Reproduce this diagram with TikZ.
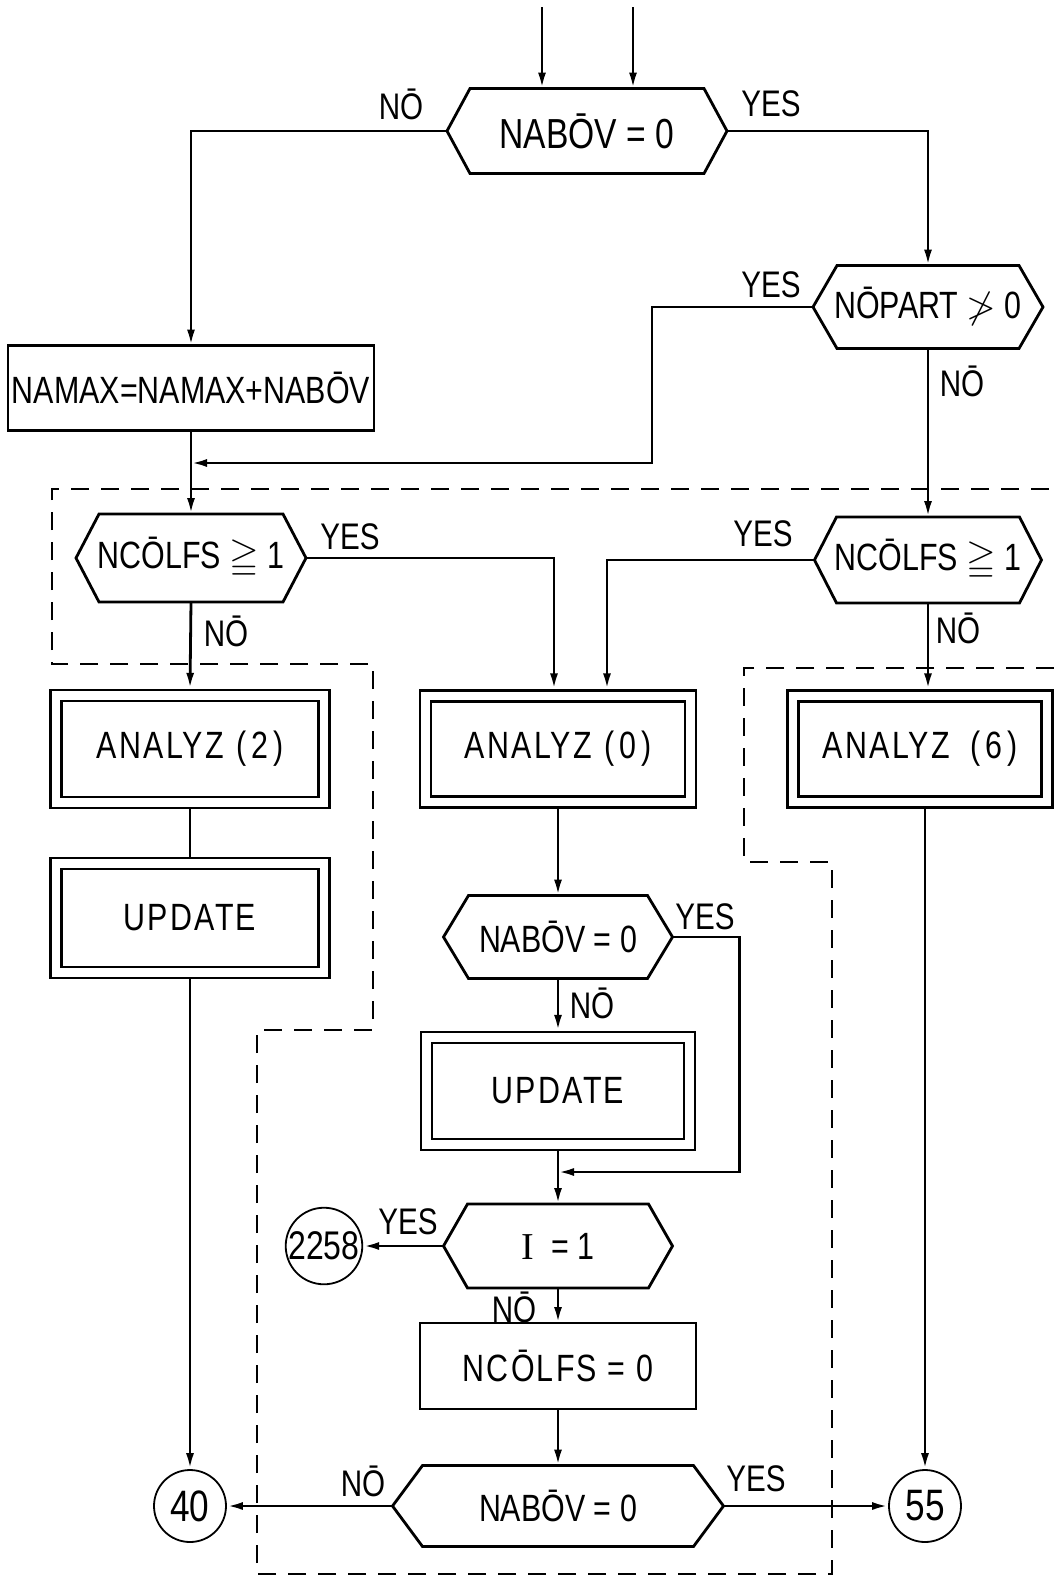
\documentclass[tikz,border=0pt]{standalone}
\usepackage{fontspec}
\usepackage{amssymb}
\setmainfont{Liberation Sans}[FakeStretch=0.8]
\newfontfamily\spacedfont{Liberation Sans}[FakeStretch=0.8,LetterSpace=6]
\newfontfamily\seriffont{Liberation Serif}
\usetikzlibrary{arrows.meta,calc}

\tikzset{
  >={Latex[length=16pt,width=8pt]},
  flow/.style={line width=2.8pt},
  frame/.style={line width=2pt, dash pattern=on 18pt off 12pt},
  decision/.style={inner sep=0pt, outer sep=0pt, font=\fontsize{38}{44}\selectfont},
  proc/.style={draw, line width=2.6pt, inner sep=0pt, outer sep=0pt, font=\fontsize{38}{44}\selectfont},
  subr/.style={draw, line width=2.4pt, double, double distance=8.6pt, inner sep=0pt, outer sep=6.7pt, font=\fontsize{38}{44}\spacedfont},
  conn/.style={circle, draw, line width=1.8pt, minimum size=72pt, inner sep=0pt, font=\fontsize{44}{50}\selectfont},
  lab/.style={inner sep=0pt, font=\fontsize{37}{42}\selectfont}
}

% hexagon round a decision node: name, slant
\newcommand{\drawhex}[2]{%
  \draw[flow] (#1.west) -- ([xshift=#2]#1.north west) -- ([xshift=-#2]#1.north east)
    -- (#1.east) -- ([xshift=-#2]#1.south east) -- ([xshift=#2]#1.south west) -- cycle;}
\newcommand{\analyz}[2]{ANALYZ\hspace{#2}(\hspace{5pt}#1\hspace{5pt})}

\begin{document}
\begin{tikzpicture}[x=1pt,y=-1pt]
\useasboundingbox (0,0) rectangle (1054,1580);

% decisions
\node[decision, minimum width=280pt, minimum height=85pt, font=\fontsize{42}{48}\selectfont] (nabov1) at (587,131) {NABŌV = 0};
\node[decision, minimum width=230pt, minimum height=83pt] (nopart) at (928,307) {NŌPART $\ngtr$ 0};
\node[decision, minimum width=230pt, minimum height=88pt] (ncolfsL) at (191,558) {NCŌLFS $\geqq$ 1};
\node[decision, minimum width=227pt, minimum height=86pt] (ncolfsR) at (928,560) {NCŌLFS $\geqq$ 1};
\node[decision, minimum width=229pt, minimum height=83pt] (nabov2) at (558,937) {NABŌV = 0};
\node[decision, minimum width=229pt, minimum height=84pt] (ione) at (558,1246) {{\seriffont I}\ \ = 1};
\node[decision, minimum width=331pt, minimum height=81pt] (nabov3) at (558,1506) {NABŌV = 0};
\drawhex{nabov1}{23pt}
\drawhex{nopart}{24pt}
\drawhex{ncolfsL}{23pt}
\drawhex{ncolfsR}{22pt}
\drawhex{nabov2}{25pt}
\drawhex{ione}{24pt}
\drawhex{nabov3}{30pt}

% boxes
\node[proc, minimum width=366pt, minimum height=85pt] (namax) at (191,388) {NAMAX=NAMAX+NABŌV};
\node[subr, minimum width=268pt, minimum height=107pt] (anlz2) at (190,749) {\analyz{2}{12pt}};
\node[subr, minimum width=268pt, minimum height=109pt] (upd1) at (190,918) {UPDATE};
\node[subr, minimum width=265pt, minimum height=106pt] (anlz0) at (558,749) {\analyz{0}{12pt}};
\node[subr, minimum width=254pt, minimum height=106pt] (anlz6) at (920,749) {\analyz{6}{20pt}};
\node[subr, minimum width=263pt, minimum height=107pt] (upd2) at (558,1091) {UPDATE};
\node[proc, minimum width=276pt, minimum height=86pt, font=\fontsize{38}{44}\spacedfont] (ncolfs0) at (558,1366) {NCŌLFS = 0};

% connectors
\node[conn, font=\fontsize{40}{46}\selectfont] (c2258) at (324,1246) {2258};
\node[conn] (c40) at (190,1506) {40};
\node[conn] (c55) at (925,1506) {55};

% dashed boundary
\draw[frame] (1054,668) -- (744,668) -- (744,862) -- (832,862) -- (832,1574) -- (257,1574)
  -- (257,1030) -- (373,1030) -- (373,664) -- (52,664) -- (52,489) -- (1054,489);

% flow lines
\coordinate (in1) at (542,7);
\coordinate (in2) at (633,7);
\coordinate (join1) at (191,463);
\coordinate (join2) at (558,1172);
\draw[flow,->] (in1) -- (in1 |- nabov1.north);
\draw[flow,->] (in2) -- (in2 |- nabov1.north);
\draw[flow,->] (nabov1.west) -| (namax.north);
\draw[flow,->] (nabov1.east) -| (nopart.north);
\draw[flow,->] (nopart.west) -- ++(-161,0) |- (join1);
\draw[flow,->] (namax.south) -- (ncolfsL.north);
\draw[flow,->] (ncolfsL.east) -| ([xshift=-4pt]anlz0.north);
\draw[flow,->] (ncolfsR.west) -| ([xshift=49pt]anlz0.north);
\draw[flow,->] (nopart.south) -- (ncolfsR.north);
\draw[flow,->] (ncolfsL.south) -- (anlz2.north);
\draw[flow,->] (ncolfsR.south) -- (ncolfsR.south |- anlz6.north);
\draw[flow] (anlz2.south) -- (upd1.north);
\draw[flow,->] (upd1.south) -- (c40.north);
\draw[flow,->] (c55.north |- anlz6.south) -- (c55.north);
\draw[flow,->] (anlz0.south) -- (nabov2.north);
\draw[flow,->] (nabov2.south) -- (upd2.north);
\draw[flow,->] (nabov2.east) -- ++(67,0) |- (join2);
\draw[flow,->] (upd2.south) -- (ione.north);
\draw[flow,->] (ione.west) -- (c2258.east);
\draw[flow,->] (ione.south) -- (ncolfs0.north);
\draw[flow,->] (ncolfs0.south) -- (nabov3.north);
\draw[flow,->] (nabov3.west) -- (c40.east);
\draw[flow,->] (nabov3.east) -- (c55.west);

% branch labels
\node[lab] (no1) at (401,104) {NŌ};
\node[lab] (yes1) at (771,104) {YES};
\node[lab] (yes2) at (771,285) {YES};
\node[lab] (no2) at (962,381) {NŌ};
\node[lab] (yes3) at (350,537) {YES};
\node[lab] (no3) at (226,631) {NŌ};
\node[lab] (yes4) at (763,534) {YES};
\node[lab] (no4) at (958,628) {NŌ};
\node[lab] (yes5) at (705,917) {YES};
\node[lab] (no5) at (592,1003) {NŌ};
\node[lab] (yes6) at (408,1222) {YES};
\node[lab] (no6) at (514,1307) {NŌ};
\node[lab] (no7) at (363,1481) {NŌ};
\node[lab] (yes7) at (756,1479) {YES};
\end{tikzpicture}
\end{document}
